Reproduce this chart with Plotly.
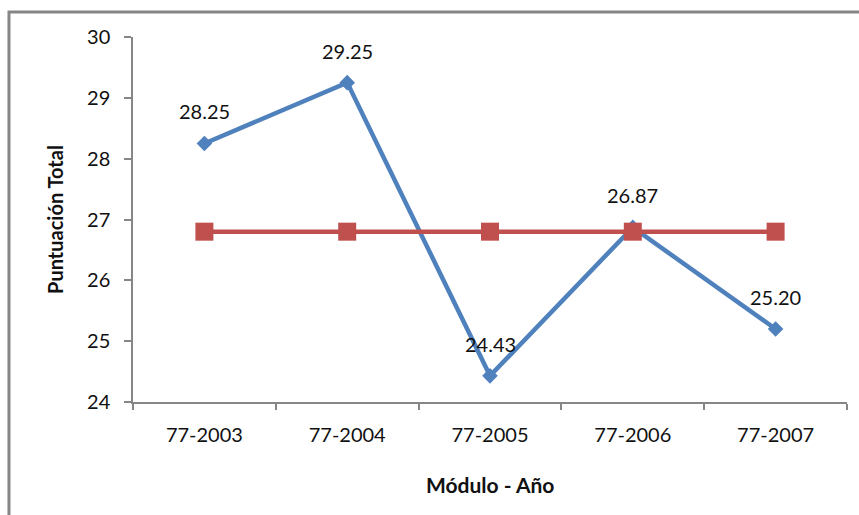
import plotly.graph_objects as go

# Data
categorias = ["77-2003", "77-2004", "77-2005", "77-2006", "77-2007"]
puntuacion = [28.25, 29.25, 24.43, 26.87, 25.20]
promedio = [26.80, 26.80, 26.80, 26.80, 26.80]
etiquetas = ["28.25", "29.25", "24.43", "26.87", "25.20"]

AZUL = "#4F81BD"
ROJO = "#C0504D"
GRIS = "#868686"
FUENTE = "Lato, 'Open Sans', sans-serif"

fig = go.Figure()

fig.add_trace(go.Scatter(
    x=categorias, y=puntuacion, mode="lines+markers",
    line=dict(color=AZUL, width=4.5),
    marker=dict(symbol="diamond", size=12, color=AZUL),
    showlegend=False, hoverinfo="x+y",
))

fig.add_trace(go.Scatter(
    x=categorias, y=promedio, mode="lines+markers",
    line=dict(color=ROJO, width=4.5),
    marker=dict(symbol="square", size=18, color=ROJO),
    showlegend=False, hoverinfo="x+y",
))

# Value labels above the blue series
for c, v, t in zip(categorias, puntuacion, etiquetas):
    fig.add_annotation(
        x=c, y=v, text=t, showarrow=False, yshift=32,
        font=dict(family=FUENTE, size=20, color="#111111"),
    )

# Axis titles
fig.add_annotation(
    x=-0.11, y=0.5, xref="paper", yref="paper", text="<b>Puntuación Total</b>",
    textangle=-90, showarrow=False, xanchor="center", yanchor="middle",
    font=dict(family=FUENTE, size=20, color="#111111"),
)
fig.add_annotation(
    x=0.5, y=-0.225, xref="paper", yref="paper", text="<b>Módulo - Año</b>",
    showarrow=False, xanchor="center", yanchor="middle",
    font=dict(family=FUENTE, size=21, color="#111111"),
)

# Chart outer border (continues past the right and bottom edges)
fig.add_shape(
    type="rect", xref="paper", yref="paper",
    x0=-0.1737, x1=1.2, y0=-0.6, y1=1.0685,
    line=dict(color=GRIS, width=3), fillcolor="rgba(0,0,0,0)", layer="below",
)

fig.update_layout(
    width=859, height=515,
    margin=dict(l=133, r=12, t=37, b=113),
    paper_bgcolor="white", plot_bgcolor="white",
    font=dict(family=FUENTE, size=20, color="#111111"),
    xaxis=dict(
        type="category", range=[-0.5, 4.5], tickson="boundaries",
        ticks="outside", ticklen=6, tickcolor=GRIS, tickwidth=1.5,
        showline=True, linecolor=GRIS, linewidth=1.5,
        showgrid=False, zeroline=False, ticklabelstandoff=14,
        tickfont=dict(family=FUENTE, size=20, color="#111111"),
    ),
    yaxis=dict(
        range=[24, 30], dtick=1, ticks="outside", ticklen=7,
        tickcolor=GRIS, tickwidth=1.5,
        showline=True, linecolor=GRIS, linewidth=1.5,
        showgrid=False, zeroline=False, ticklabelstandoff=10,
        tickfont=dict(family=FUENTE, size=20, color="#111111"),
    ),
)

fig.write_html("out.html")
